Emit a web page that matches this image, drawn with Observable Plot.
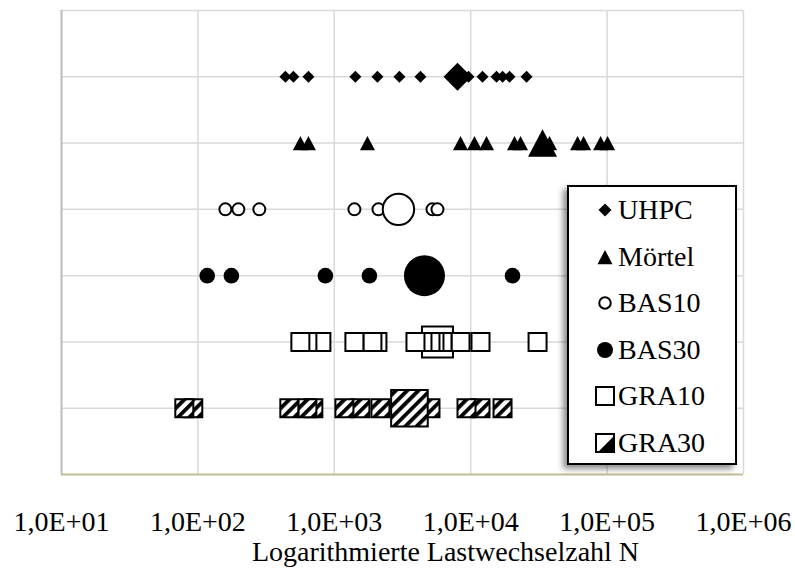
<!DOCTYPE html>
<html><head><meta charset="utf-8">
<script src="https://cdn.jsdelivr.net/npm/d3@7"></script>
<script src="https://cdn.jsdelivr.net/npm/@observablehq/plot@0.6"></script>
<style>
body{margin:0;background:#fff;}
#wrap{position:relative;width:795px;height:571px;font-family:"Liberation Serif","Times New Roman",serif;}
#legend{position:absolute;left:567px;top:185px;width:166px;height:276px;border:2px solid #000;background:#fff;box-shadow:-4px 4px 6px rgba(0,0,0,0.45);}
.row{position:absolute;left:0;height:40px;display:flex;align-items:center;}
.row svg{width:26px;height:26px;margin-left:23px;display:block;}
.row span{font-size:28px;line-height:1;margin-left:0px;color:#000;}
</style></head>
<body><div id="wrap"></div>
<script>
// ---- data (Lastwechselzahl N) ----
const categories = ["UHPC", "Mörtel", "BAS10", "BAS30", "GRA10", "GRA30"];
const uhpc    = [438, 501, 646, 1428, 2071, 3003, 4282, 9636, 12210, 15460, 17120, 19260, 25670];
const moertel = [564, 646, 1750, 8418, 10660, 13060, 20960, 23190, 37860, 60760, 67230, 89620, 100800];
const bas10   = [159, 198, 282, 1404, 2107, 5244, 5707];
const bas30   = [117, 176, 860, 1809, 20260];
const gra10   = [564, 635, 804, 1404, 1903, 2071, 3936, 4430, 5071, 5425, 6211, 8418, 11800, 30920];
const gra30   = [79.5, 92.5, 468, 635, 702, 1186, 1554, 2179, 5071, 9316, 11800, 17120];
const means   = [8000, 33630, 2953, 4581, 5707, 3556];
const tickValues = [10, 100, 1000, 10000, 100000, 1000000];
const tickLabels = ["1,0E+01", "1,0E+02", "1,0E+03", "1,0E+04", "1,0E+05", "1,0E+06"];
const xTitle = "Logarithmierte Lastwechselzahl N";

// ---- helpers ----
const rowY = c => categories.length - categories.indexOf(c);
const rows = (cat, arr) => arr.map(n => ({cat, n}));
const meanRow = cat => [{cat, n: means[categories.indexOf(cat)]}];
const sym = f => ({draw(ctx, size) { f(ctx, Math.sqrt(size / Math.PI)); }});
const diamondSym = sym((c, r) => { c.moveTo(0, -r); c.lineTo(r, 0); c.lineTo(0, r); c.lineTo(-r, 0); c.closePath(); });
const triSym = sym((c, r) => { const h = r * 0.95; c.moveTo(0, -h); c.lineTo(r, h); c.lineTo(-r, h); c.closePath(); });
const squareSym = sym((c, r) => { c.moveTo(-r, -r); c.lineTo(r, -r); c.lineTo(r, r); c.lineTo(-r, r); c.closePath(); });

const pos = {x: "n", y: d => rowY(d.cat)};
const gridColor = "#d9d9d9";

const plot = Plot.plot({
  width: 795, height: 571,
  marginLeft: 61, marginRight: 52, marginTop: 10, marginBottom: 97,
  style: {fontFamily: '"Liberation Serif","Times New Roman",serif', fontSize: "28px", background: "#fff", color: "#000", overflow: "visible"},
  x: {type: "log", domain: [10, 1e6]},
  y: {domain: [0, 7], axis: null},
  marks: [
    Plot.ruleX(tickValues, {stroke: gridColor, strokeWidth: 1.5}),
    Plot.ruleY(d3.range(1, categories.length + 2), {stroke: gridColor, strokeWidth: 1.5}),
    Plot.ruleX([10], {stroke: "#bfbfbf", strokeWidth: 2}),
    Plot.ruleY([0], {stroke: "#c4bc96", strokeWidth: 2}),
    Plot.axisX({ticks: tickValues, tickFormat: (d, i) => tickLabels[tickValues.indexOf(d)], tickSize: 0, tickPadding: 37, label: null}),
    Plot.text([xTitle], {text: d => d, frameAnchor: "bottom", dy: 86, dx: 43}),
    // UHPC
    Plot.dot(rows("UHPC", uhpc), {...pos, symbol: diamondSym, r: 6, fill: "#000"}),
    Plot.dot(meanRow("UHPC"), {...pos, symbol: diamondSym, r: 14, fill: "#000"}),
    // Mörtel
    Plot.dot(rows("Mörtel", moertel), {...pos, symbol: triSym, r: 7.5, fill: "#000"}),
    Plot.dot(meanRow("Mörtel"), {...pos, symbol: triSym, r: 14.5, fill: "#000"}),
    // BAS10
    Plot.dot(rows("BAS10", bas10), {...pos, r: 6, fill: "#fff", stroke: "#000", strokeWidth: 2}),
    Plot.dot(meanRow("BAS10"), {...pos, r: 15.7, fill: "#fff", stroke: "#000", strokeWidth: 2}),
    // BAS30
    Plot.dot(rows("BAS30", bas30), {...pos, r: 7.8, fill: "#000"}),
    Plot.dot(meanRow("BAS30"), {...pos, r: 20.5, fill: "#000"}),
    // GRA10
    Plot.dot(meanRow("GRA10"), {...pos, symbol: squareSym, r: 15.5, fill: "#fff", stroke: "#000", strokeWidth: 2}),
    Plot.dot(rows("GRA10", gra10.slice().reverse()), {...pos, symbol: squareSym, r: 9, fill: "#fff", stroke: "#000", strokeWidth: 2}),
    // GRA30
    Plot.dot(rows("GRA30", gra30.slice().reverse()), {...pos, symbol: squareSym, r: 9, fill: "url(#hatch)", stroke: "#000", strokeWidth: 2}),
    Plot.dot(meanRow("GRA30"), {...pos, symbol: squareSym, r: 18.3, fill: "url(#hatch)", stroke: "#000", strokeWidth: 2})
  ]
});
plot.insertAdjacentHTML("afterbegin",
  '<defs><pattern id="hatch" patternUnits="userSpaceOnUse" width="8" height="8" patternTransform="rotate(45)">' +
  '<rect width="8" height="8" fill="#fff"/><rect width="3.8" height="8" fill="#000"/></pattern></defs>');
const wrap = document.getElementById("wrap");
wrap.appendChild(plot);

// ---- legend ----
const legend = document.createElement("div");
legend.id = "legend";
const icon = (kind) => {
  const p = d3.path();
  const r = {UHPC: 6.5, "Mörtel": 7.5, BAS10: 5.75, BAS30: 8, GRA10: 9, GRA30: 9}[kind];
  let body = "";
  if (kind === "UHPC") { diamondSym.draw(p, Math.PI * r * r); body = `<path d="${p}" fill="#000"/>`; }
  else if (kind === "Mörtel") { triSym.draw(p, Math.PI * r * r); body = `<path d="${p}" fill="#000"/>`; }
  else if (kind === "BAS10") body = `<circle r="${r}" fill="#fff" stroke="#000" stroke-width="2"/>`;
  else if (kind === "BAS30") body = `<circle r="${r}" fill="#000"/>`;
  else if (kind === "GRA10") body = `<rect x="${-r}" y="${-r}" width="${2*r}" height="${2*r}" fill="#fff" stroke="#000" stroke-width="2"/>`;
  else body = `<rect x="${-r}" y="${-r}" width="${2*r}" height="${2*r}" fill="#fff" stroke="#000" stroke-width="2"/>` +
              `<path d="M${r-1},${-r+3}L${r-1},${r-1}L${-r+3},${r-1}Z" fill="#000"/>`;
  return `<svg viewBox="-13 -13 26 26">${body}</svg>`;
};
categories.forEach((c, i) => {
  const row = document.createElement("div");
  row.className = "row";
  row.style.top = (23 + i * 46.6 - 20) + "px";
  row.innerHTML = icon(c) + `<span>${c}</span>`;
  legend.appendChild(row);
});
wrap.appendChild(legend);
</script>
</body></html>
